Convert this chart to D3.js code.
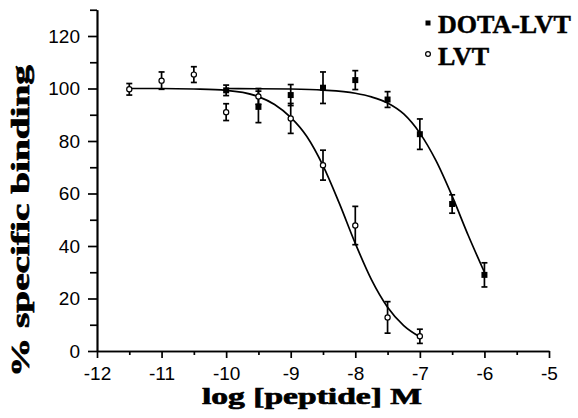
<!DOCTYPE html>
<html>
<head>
<meta charset="utf-8">
<script src="https://cdn.jsdelivr.net/npm/d3@7"></script>
<style>
  body { margin: 0; background: #fff; }
  svg { display: block; }
</style>
</head>
<body>
<div id="wrapper"></div>
<script>
// 1. Data
const dotaX = [-10, -9.5, -9, -8.5, -8, -7.5, -7, -6.5, -6]
const dotaY = [99.3, 93, 97.5, 100.3, 103.2, 95.8, 82.6, 56, 29]
const dotaErr = [2, 6, 4, 6, 3.6, 3, 5.8, 3.5, 4.6]

const lvtX = [-11.5, -11, -10.5, -10, -9.5, -9, -8.5, -8, -7.5, -7]
const lvtY = [99.7, 103, 105.3, 91, 97, 88.6, 70.8, 47.8, 12.8, 5.6]
const lvtErr = [2.2, 3.3, 3, 3.2, 3, 5.7, 5.7, 7.3, 6, 2.7]

// fitted curves
const dotaCurveX = [-10, -9.5, -9, -8.5, -8, -7.75, -7.5, -7.25, -7, -6.75, -6.5, -6.25, -6]
const dotaCurveY = [100, 99.9, 99.8, 99.4, 98.2, 96.8, 94.5, 90.3, 83, 72.5, 59, 44, 30]
const lvtCurveX = [-11.5, -11, -10.5, -10, -9.5, -9.25, -9, -8.75, -8.5, -8.25, -8, -7.75, -7.5, -7.25, -7]
const lvtCurveY = [100, 100, 99.8, 99.3, 96.9, 93.9, 89, 81.7, 70.6, 56.4, 41, 27.2, 16.7, 9.7, 5.4]

const xTicks = [-12, -11, -10, -9, -8, -7, -6, -5]
const xMinorTicks = [-11.5, -10.5, -9.5, -8.5, -7.5, -6.5, -5.5]
const yTicks = [0, 20, 40, 60, 80, 100, 120]
const yMinorTicks = [10, 30, 50, 70, 90, 110, 130]

const seriesNames = ["DOTA-LVT", "LVT"]

// 2. Dimensions
const width = 578
const height = 418
const plot = { left: 97, right: 549, top: 9.75, bottom: 351 }

// 3. Canvas
const svg = d3.select("#wrapper")
  .append("svg")
  .attr("width", width)
  .attr("height", height)

// 4. Scales
const x = d3.scaleLinear().domain([-12, -5]).range([plot.left, plot.right])
const y = d3.scaleLinear().domain([0, 130]).range([plot.bottom, plot.top])

// 5. Axes
const tickFont = "'Liberation Sans', Arial, sans-serif"

svg.append("g")
  .attr("transform", `translate(${plot.left},0)`)
  .call(d3.axisLeft(y).tickValues(yMinorTicks).tickSize(7).tickSizeOuter(0).tickFormat(""))
svg.append("g")
  .attr("transform", `translate(${plot.left},0)`)
  .call(d3.axisLeft(y).tickValues(yTicks).tickSize(9).tickSizeOuter(0).tickPadding(8).tickFormat(d => String(d)))

svg.append("g")
  .attr("transform", `translate(0,${plot.bottom})`)
  .call(d3.axisBottom(x).tickValues(xMinorTicks).tickSize(4).tickSizeOuter(0).tickFormat(""))
svg.append("g")
  .attr("transform", `translate(0,${plot.bottom})`)
  .call(d3.axisBottom(x).tickValues(xTicks).tickSize(7).tickSizeOuter(0).tickPadding(9).tickFormat(d => String(d)))

svg.selectAll(".domain, .tick line")
  .attr("stroke", "#000")
  .attr("stroke-width", 1.7)
svg.selectAll(".tick text")
  .attr("fill", "#000")
  .style("font-family", tickFont)
  .style("font-size", "19px")

// 6. Curves
const line = d3.line()
  .x(d => x(d[0]))
  .y(d => y(d[1]))
  .curve(d3.curveMonotoneX)

svg.append("path")
  .datum(d3.zip(dotaCurveX, dotaCurveY))
  .attr("d", line)
  .attr("fill", "none")
  .attr("stroke", "#000")
  .attr("stroke-width", 1.7)
svg.append("path")
  .datum(d3.zip(lvtCurveX, lvtCurveY))
  .attr("d", line)
  .attr("fill", "none")
  .attr("stroke", "#000")
  .attr("stroke-width", 1.7)

// 7. Error bars + markers
const capHalf = 3
function drawErrors(xs, ys, es) {
  const g = svg.append("g").attr("stroke", "#000").attr("stroke-width", 1.7)
  const rows = d3.zip(xs, ys, es)
  g.selectAll("line.v").data(rows).join("line")
    .attr("x1", d => x(d[0])).attr("x2", d => x(d[0]))
    .attr("y1", d => y(d[1] - d[2])).attr("y2", d => y(d[1] + d[2]))
  g.selectAll("line.top").data(rows).join("line").attr("class", "top")
    .attr("x1", d => x(d[0]) - capHalf).attr("x2", d => x(d[0]) + capHalf)
    .attr("y1", d => y(d[1] + d[2])).attr("y2", d => y(d[1] + d[2]))
  g.selectAll("line.bot").data(rows).join("line").attr("class", "bot")
    .attr("x1", d => x(d[0]) - capHalf).attr("x2", d => x(d[0]) + capHalf)
    .attr("y1", d => y(d[1] - d[2])).attr("y2", d => y(d[1] - d[2]))
}
drawErrors(dotaX, dotaY, dotaErr)
drawErrors(lvtX, lvtY, lvtErr)

svg.append("g")
  .selectAll("rect")
  .data(d3.zip(dotaX, dotaY))
  .join("rect")
  .attr("x", d => x(d[0]) - 3)
  .attr("y", d => y(d[1]) - 3)
  .attr("width", 6)
  .attr("height", 6)
  .attr("fill", "#000")

svg.append("g")
  .selectAll("circle")
  .data(d3.zip(lvtX, lvtY))
  .join("circle")
  .attr("cx", d => x(d[0]))
  .attr("cy", d => y(d[1]))
  .attr("r", 2.6)
  .attr("fill", "#fff")
  .attr("stroke", "#000")
  .attr("stroke-width", 1.2)

// 8. Labels
const serif = "'Liberation Serif', 'Times New Roman', serif"

svg.append("text")
  .attr("x", 202)
  .attr("y", 404)
  .attr("textLength", 220)
  .attr("lengthAdjust", "spacingAndGlyphs")
  .attr("stroke", "#000")
  .attr("stroke-width", 0.7)
  .style("font-family", serif)
  .style("font-weight", "bold")
  .style("font-size", "24px")
  .text("log [peptide] M")

svg.append("text")
  .attr("transform", "translate(29,377) rotate(-90)")
  .attr("textLength", 312)
  .attr("lengthAdjust", "spacingAndGlyphs")
  .attr("stroke", "#000")
  .attr("stroke-width", 0.7)
  .style("font-family", serif)
  .style("font-weight", "bold")
  .style("font-size", "25px")
  .text("% specific binding")

// legend
const legend = svg.append("g")
legend.append("rect")
  .attr("x", 425.5).attr("y", 20.5).attr("width", 5).attr("height", 5)
  .attr("fill", "#000")
legend.append("circle")
  .attr("cx", 428).attr("cy", 54).attr("r", 2.4)
  .attr("fill", "#fff").attr("stroke", "#000").attr("stroke-width", 1.2)
legend.selectAll("text")
  .data(seriesNames)
  .join("text")
  .attr("x", 438)
  .attr("y", (d, i) => 33 + i * 32)
  .attr("stroke", "#000")
  .attr("stroke-width", 0.5)
  .style("font-family", serif)
  .style("font-weight", "bold")
  .style("font-size", "26px")
  .text(d => d)
</script>
</body>
</html>
